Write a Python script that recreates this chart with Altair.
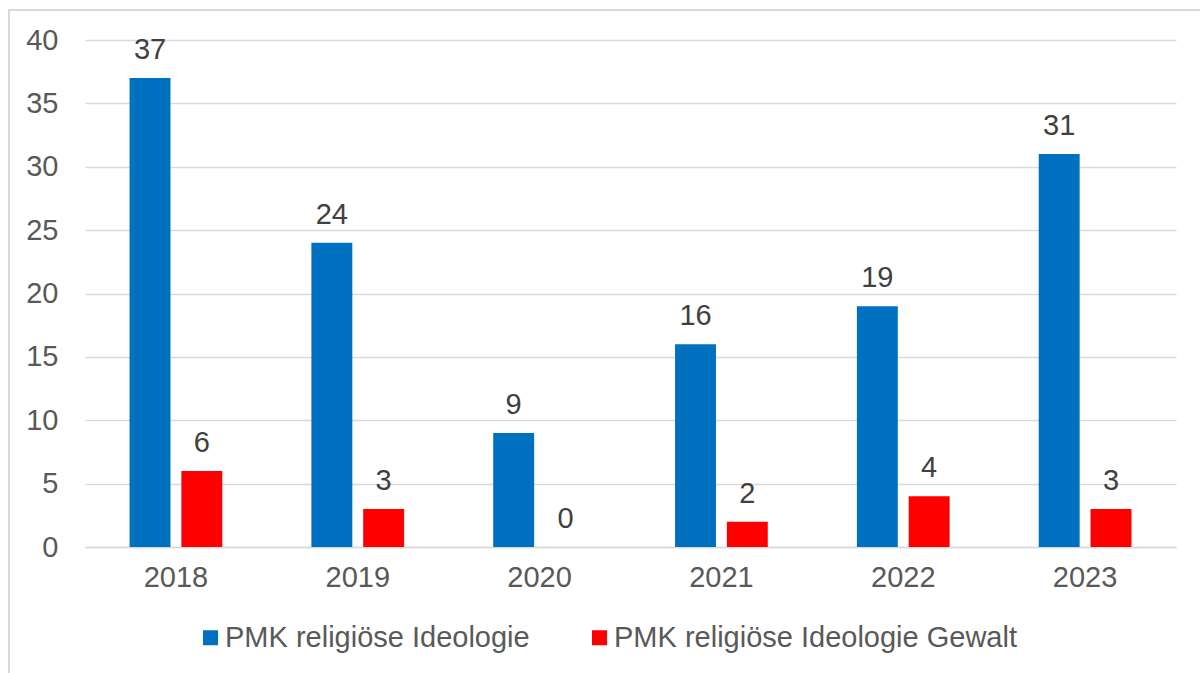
import altair as alt
import pandas as pd

years = ["2018", "2019", "2020", "2021", "2022", "2023"]
series_names = ["PMK religiöse Ideologie", "PMK religiöse Ideologie Gewalt"]
ideologie = [37, 24, 9, 16, 19, 31]
gewalt = [6, 3, 0, 2, 4, 3]
colors = ["#0070C0", "#FF0000"]

rows = []
for y, a, b in zip(years, ideologie, gewalt):
    rows.append({"Jahr": y, "Serie": series_names[0], "Wert": a})
    rows.append({"Jahr": y, "Serie": series_names[1], "Wert": b})
df = pd.DataFrame(rows)

FONT = "Liberation Sans"

x = alt.X("Jahr:N", sort=years, title=None,
          scale=alt.Scale(paddingInner=0.49, paddingOuter=0.245),
          axis=alt.Axis(labelAngle=0, labelFontSize=29, labelColor="#595959",
                        labelFont=FONT, ticks=False, domain=True,
                        domainColor="#d9d9d9", domainWidth=1.5, labelPadding=16))
xo = alt.XOffset("Serie:N", sort=series_names,
                 scale=alt.Scale(paddingInner=0.21, paddingOuter=0))
y = alt.Y("Wert:Q", title=None,
          scale=alt.Scale(domain=[0, 40], nice=False),
          axis=alt.Axis(values=list(range(0, 41, 5)), labelFontSize=29,
                        labelColor="#595959", labelFont=FONT, ticks=False,
                        domain=False, gridColor="#d9d9d9", gridWidth=1.5,
                        labelPadding=27))
color = alt.Color("Serie:N", sort=series_names,
                  scale=alt.Scale(domain=series_names, range=colors),
                  legend=alt.Legend(title=None, orient="none", direction="horizontal",
                                    legendX=111, legendY=583, symbolType="square",
                                    symbolSize=225, symbolStrokeWidth=0,
                                    labelFontSize=29, labelColor="#595959",
                                    labelFont=FONT, labelOffset=0,
                                    columnPadding=55, labelLimit=800))

base = alt.Chart(df)
bars = base.mark_bar().encode(x=x, xOffset=xo, y=y, color=color)
labels = base.mark_text(baseline="alphabetic", dy=-19, fontSize=29,
                        color="#404040", font=FONT).encode(
    x=x, xOffset=xo, y=y, text="Wert:Q")

border = alt.Chart(pd.DataFrame({"a": [0]})).mark_rect(
    fill=None, stroke="#d9d9d9", strokeWidth=2).encode(
    x=alt.value(-76), x2=alt.value(1130), y=alt.value(-30), y2=alt.value(650))

chart = alt.layer(border, bars, labels).properties(
    width=1091, height=507,
    autosize=alt.AutoSizeParams(type="none"),
    padding={"left": 85, "top": 40, "right": 24, "bottom": 126},
    background="white",
).configure_view(stroke=None)

chart.save("out.html", embed_options={"renderer": "svg", "actions": False})
